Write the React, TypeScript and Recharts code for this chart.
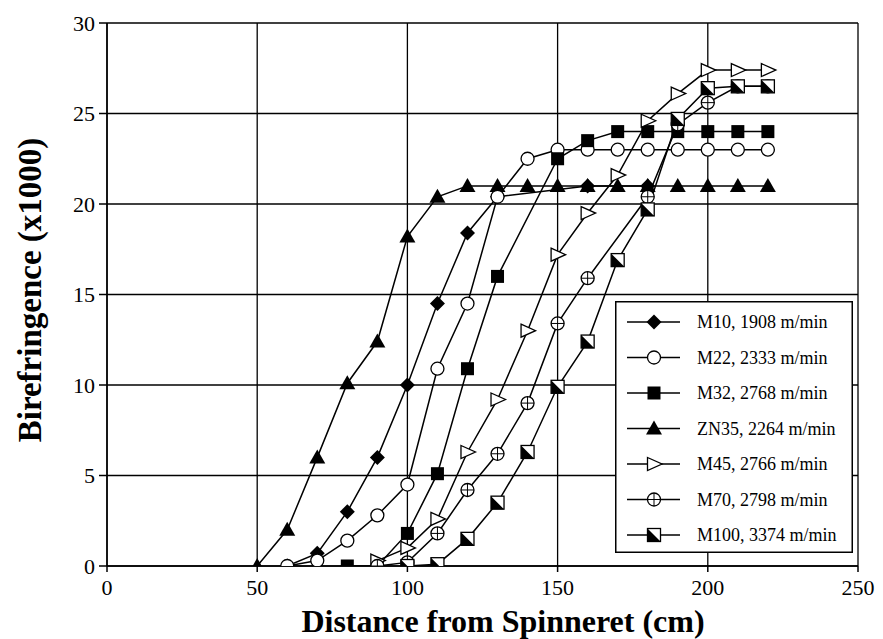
import React from "react";
import { LineChart, Line, XAxis, YAxis, CartesianGrid, Legend } from "recharts";

// ---- data (distance from spinneret in cm, birefringence x1000) ----
const M10_X = [60, 70, 80, 90, 100, 110, 120, 130, 160, 180];
const M10_Y = [0, 0.7, 3.0, 6.0, 10.0, 14.5, 18.4, 20.4, 21.0, 21.0];

const M22_X = [60, 70, 80, 90, 100, 110, 120, 130, 140, 150, 160, 170, 180, 190, 200, 210, 220];
const M22_Y = [0, 0.3, 1.4, 2.8, 4.5, 10.9, 14.5, 20.4, 22.5, 23.0, 23.0, 23.0, 23.0, 23.0, 23.0, 23.0, 23.0];

const M32_X = [80, 90, 100, 110, 120, 130, 150, 160, 170, 180, 190, 200, 210, 220];
const M32_Y = [0, 0, 1.8, 5.1, 10.9, 16.0, 22.5, 23.5, 24.0, 24.0, 24.0, 24.0, 24.0, 24.0];

const ZN35_X = [50, 60, 70, 80, 90, 100, 110, 120, 130, 140, 150, 160, 170, 180, 190, 200, 210, 220];
const ZN35_Y = [0, 2.0, 6.0, 10.1, 12.4, 18.2, 20.4, 21.0, 21.0, 21.0, 21.0, 21.0, 21.0, 21.0, 21.0, 21.0, 21.0, 21.0];

const M45_X = [90, 100, 110, 120, 130, 140, 150, 160, 170, 180, 190, 200, 210, 220];
const M45_Y = [0.3, 1.0, 2.6, 6.3, 9.2, 13.0, 17.2, 19.5, 21.6, 24.6, 26.1, 27.4, 27.4, 27.4];

const M70_X = [90, 100, 110, 120, 130, 140, 150, 160, 180, 190, 200, 210, 220];
const M70_Y = [0, 0.2, 1.8, 4.2, 6.2, 9.0, 13.4, 15.9, 20.4, 24.4, 25.6, 26.5, 26.5];

const M100_X = [100, 110, 120, 130, 140, 150, 160, 170, 180, 190, 200, 210, 220];
const M100_Y = [0, 0.1, 1.5, 3.5, 6.3, 9.9, 12.4, 16.9, 19.7, 24.7, 26.4, 26.5, 26.5];

const SERIES_NAMES = [
  "M10, 1908 m/min",
  "M22, 2333 m/min",
  "M32, 2768 m/min",
  "ZN35, 2264 m/min",
  "M45, 2766 m/min",
  "M70, 2798 m/min",
  "M100, 3374 m/min",
];
const SERIES_SHAPES = ["diamond", "circle", "square", "triangle", "rtri", "crosscircle", "halfsq"];

const X_TICKS = [0, 50, 100, 150, 200, 250];
const Y_TICKS = [0, 5, 10, 15, 20, 25, 30];

const X_TITLE = "Distance from Spinneret (cm)";
const Y_TITLE = "Birefringence (x1000)";

const zip = (xs: number[], ys: number[]) => xs.map((x, i) => ({ x, y: ys[i] }));

const SERIES = [
  zip(M10_X, M10_Y),
  zip(M22_X, M22_Y),
  zip(M32_X, M32_Y),
  zip(ZN35_X, ZN35_Y),
  zip(M45_X, M45_Y),
  zip(M70_X, M70_Y),
  zip(M100_X, M100_Y),
];

// drawing order (later on top)
const DRAW_ORDER = [3, 0, 1, 2, 4, 5, 6];

const FONT = "Liberation Serif, Times New Roman, serif";

function Marker({ shape, cx, cy }: { shape: string; cx: number; cy: number }) {
  const s = 6.5;
  const sw = 1.3;
  switch (shape) {
    case "diamond":
      return (
        <polygon
          points={`${cx},${cy - s - 1} ${cx + s + 1},${cy} ${cx},${cy + s + 1} ${cx - s - 1},${cy}`}
          fill="#000"
        />
      );
    case "circle":
      return <circle cx={cx} cy={cy} r={s} fill="#fff" stroke="#000" strokeWidth={sw} />;
    case "square":
      return <rect x={cx - s} y={cy - s} width={2 * s} height={2 * s} fill="#000" />;
    case "triangle":
      return (
        <polygon
          points={`${cx},${cy - s - 1.5} ${cx + s + 1.5},${cy + s - 0.5} ${cx - s - 1.5},${cy + s - 0.5}`}
          fill="#000"
        />
      );
    case "rtri":
      return (
        <polygon
          points={`${cx - s},${cy - s} ${cx + s + 1.5},${cy} ${cx - s},${cy + s}`}
          fill="#fff"
          stroke="#000"
          strokeWidth={sw}
        />
      );
    case "crosscircle":
      return (
        <g>
          <circle cx={cx} cy={cy} r={s} fill="#fff" stroke="#000" strokeWidth={sw} />
          <line x1={cx - s} y1={cy} x2={cx + s} y2={cy} stroke="#000" strokeWidth={1} />
          <line x1={cx} y1={cy - s} x2={cx} y2={cy + s} stroke="#000" strokeWidth={1} />
        </g>
      );
    case "halfsq":
      return (
        <g>
          <rect x={cx - s} y={cy - s} width={2 * s} height={2 * s} fill="#fff" stroke="#000" strokeWidth={sw} />
          <polygon points={`${cx - s},${cy - s} ${cx - s},${cy + s} ${cx + s},${cy + s}`} fill="#000" />
        </g>
      );
    default:
      return null;
  }
}

const makeDot = (shape: string) => (props: any) => {
  const { cx, cy, index } = props;
  if (cx == null || cy == null) return <g key={`d-${shape}-${index}`} />;
  return (
    <g key={`d-${shape}-${index}`}>
      <Marker shape={shape} cx={cx} cy={cy} />
    </g>
  );
};

const LEG_W = 238;
const LEG_H = 252;

function LegendBox() {
  return (
    <svg width={LEG_W} height={LEG_H} style={{ display: "block" }}>
      <rect x={0.75} y={0.75} width={LEG_W - 1.5} height={LEG_H - 1.5} fill="#fff" stroke="#000" strokeWidth={1.5} />
      {SERIES_NAMES.map((name, i) => {
        const cy = 21 + i * 35.5;
        return (
          <g key={name}>
            <line x1={12} y1={cy} x2={65} y2={cy} stroke="#000" strokeWidth={1.3} />
            <Marker shape={SERIES_SHAPES[i]} cx={39} cy={cy} />
            <text x={82} y={cy} dominantBaseline="central" style={{ fontFamily: FONT }} fontSize={18} fill="#000">
              {name}
            </text>
          </g>
        );
      })}
    </svg>
  );
}

const YTitle = () => (
  <text
    x={22}
    y={282}
    transform="rotate(-90, 22, 282)"
    textAnchor="middle"
    dominantBaseline="central"
    style={{ fontFamily: FONT }}
    fontWeight="bold"
    fontSize={33}
    fill="#000"
  >
    {Y_TITLE}
  </text>
);

const XTitle = () => (
  <text x={495} y={624} textAnchor="middle" style={{ fontFamily: FONT }} fontWeight="bold" fontSize={32} fill="#000">
    {X_TITLE}
  </text>
);

export default function App() {
  return (
    <div style={{ width: 875, height: 631, background: "#fff", fontFamily: FONT }}>
      <LineChart width={875} height={631} margin={{ top: 15, right: 25, bottom: 0, left: 0 }} style={{ fontFamily: FONT }}>
        <CartesianGrid stroke="#000" strokeWidth={1.3} horizontalValues={Y_TICKS} verticalValues={X_TICKS} />
        <XAxis
          type="number"
          dataKey="x"
          domain={[0, 250]}
          ticks={X_TICKS}
          allowDataOverflow
          height={73}
          stroke="#000"
          strokeWidth={1.5}
          tickSize={6}
          tickMargin={7}
          tick={{ fontSize: 22, fill: "#000", style: { fontFamily: FONT } }}
          label={<XTitle />}
        />
        <YAxis
          type="number"
          dataKey="y"
          domain={[0, 30]}
          ticks={Y_TICKS}
          allowDataOverflow
          width={99}
          stroke="#000"
          strokeWidth={1.5}
          tickSize={8}
          tickMargin={4}
          tick={{ fontSize: 22, fill: "#000", style: { fontFamily: FONT } }}
          label={<YTitle />}
        />
        {DRAW_ORDER.map((i) => (
          <Line
            key={SERIES_NAMES[i]}
            name={SERIES_NAMES[i]}
            data={SERIES[i]}
            dataKey="y"
            type="linear"
            stroke="#000"
            strokeWidth={1.5}
            dot={makeDot(SERIES_SHAPES[i])}
            activeDot={false}
            isAnimationActive={false}
          />
        ))}
        <Legend
          layout="vertical"
          align="center"
          verticalAlign="middle"
          width={LEG_W}
          height={LEG_H}
          wrapperStyle={{ left: 607, top: 293, width: LEG_W, height: LEG_H }}
          content={() => <LegendBox />}
        />
      </LineChart>
    </div>
  );
}
